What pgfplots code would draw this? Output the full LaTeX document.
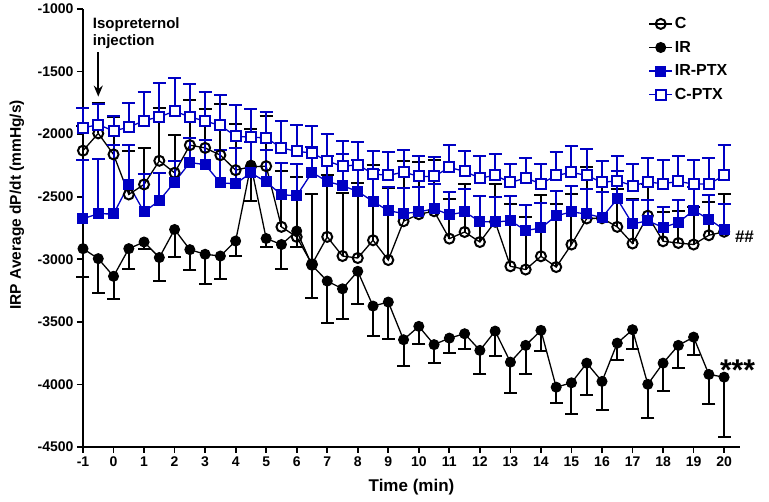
\documentclass[border=0pt]{standalone}
\usepackage{fontspec}
\setmainfont{Liberation Sans}
\usepackage{pgfplots}
\pgfplotsset{compat=1.18}
\usepackage{pgfplotstable}
\usetikzlibrary{arrows.meta, calc}
\definecolor{ptxblue}{RGB}{0,0,196}

% time, C, err, IR, err, IR-PTX, err, C-PTX, err
\pgfplotstableread{
t    C     Ce   IR    IRe  IRP   IRPe  CP    CPe
-1   -2132 200  -2915 227  -2676 470   -1950 160
-0.5 -1994 245  -2995 275  -2636 440   -1924 168
0    -2162 296  -3136 179  -2638 550   -1974 115
0.5  -2482 349  -2915 165  -2404 320   -1945 197
1    -2402 288  -2862 53   -2622 300   -1892 230
1.5  -2213 419  -2986 187  -2531 219   -1862 272
2    -2309 301  -2762 219  -2383 170   -1817 267
2.5  -2088 360  -2923 160  -2227 200   -1862 264
3    -2110 312  -2960 240  -2244 200   -1896 235
3.5  -2168 405  -2974 187  -2390 267   -1930 240
4    -2288 368  -2854 120  -2396 285   -2017 250
4.5  -2260 300  -2248 288  -2310 250   -2025 229
5    -2256 400  -2834 67   -2382 258   -2030 210
5.5  -2741 445  -2882 192  -2484 250   -2110 213
6    -2821 480  -2774 128  -2492 250   -2138 213
6.5  -3040 565  -3048 258  -2306 200   -2150 213
7    -2821 493  -3174 336  -2378 200   -2214 219
7.5  -2974 500  -3236 240  -2412 253   -2258 200
8    -2990 600  -3096 264  -2458 250   -2244 181
8.5  -2848 600  -3374 243  -2538 250   -2318 181
9    -3006 575  -3342 293  -2612 187   -2330 187
9.5  -2696 480  -3643 211  -2634 200   -2303 179
10   -2640 420  -3536 144  -2622 200   -2338 160
10.5 -2616 410  -3682 144  -2596 200   -2338 155
11   -2835 320  -3630 120  -2644 180   -2266 176
11.5 -2782 387  -3595 120  -2622 180   -2298 160
12   -2862 368  -3728 192  -2698 200   -2351 173
12.5 -2700 300  -3574 195  -2702 200   -2330 171
13   -3056 500  -3822 245  -2692 200   -2386 150
13.5 -3082 416  -3688 227  -2770 200   -2351 160
14   -2976 488  -3568 165  -2750 200   -2396 160
14.5 -3062 500  -4022 128  -2652 200   -2330 184
15   -2882 400  -3987 253  -2622 210   -2306 208
15.5 -2674 412  -3830 253  -2638 200   -2330 211
16   -2672 456  -3976 232  -2666 203   -2386 173
16.5 -2741 300  -3670 138  -2518 227   -2372 200
17   -2874 352  -3563 157  -2718 195   -2412 176
17.5 -2652 250  -3999 267  -2692 168   -2383 192
18   -2856 235  -3830 219  -2746 160   -2396 192
18.5 -2870 252  -3688 179  -2706 181   -2378 205
19   -2882 300  -3622 139  -2610 190   -2399 189
19.5 -2808 262  -3920 235  -2679 195   -2399 208
20   -2780 300  -3942 475  -2763 205   -2330 245
}\irpdata

\begin{document}
\begin{tikzpicture}
\begin{axis}[
    name=ax, at={(0,0)}, anchor=south west,
    scale only axis, width=657pt, height=438pt,
    xmin=-1, xmax=20.52, ymin=-4500, ymax=-1000,
    axis x line*=bottom, axis y line*=left,
    axis line style={line width=1.8pt},
    xtick={-1,0,...,20}, ytick={-4500,-4000,...,-1000},
    tick align=outside, major tick length=6pt,
    tick style={line width=1.8pt, black},
    scaled ticks=false,
    /pgf/number format/assume math mode=true,
    /pgf/number format/1000 sep={},
    tick label style={font=\bfseries\fontsize{14}{14}\selectfont},
    xlabel={Time (min)},
    xlabel style={font=\bfseries\fontsize{17}{17}\selectfont, yshift=-6pt},
    ylabel={IRP Average dP/dt (mmHg/s)},
    ylabel style={at={(axis description cs:-0.1005,0.553)}, anchor=center,
        font=\bfseries\fontsize{15.5}{15.5}\selectfont},
    clip=false,
    legend style={draw=none, fill=none, at={(0.856,0.99)}, anchor=north west,
        font=\bfseries\fontsize{16}{16}\selectfont, row sep=7pt},
    legend cell align=left,
    legend image code/.code={\draw[mark repeat=2,mark phase=2]
        plot coordinates {(0pt,0pt)(11.5pt,0pt)(23pt,0pt)};},
    error bars/error mark=-,
    error bars/error bar style={line width=2pt},
    error bars/error mark options={rotate=90, mark size=6.5pt, line width=2pt},
]
\addplot[black, line width=1.3pt, mark=o, mark size=5pt,
    mark options={fill=white, line width=2pt},
    error bars/.cd, y dir=plus, y explicit]
    table[x=t, y=C, y error=Ce] {\irpdata};
\addlegendentry{C}
\addplot[black, line width=1.3pt, mark=*, mark size=5pt,
    mark options={line width=1pt},
    error bars/.cd, y dir=minus, y explicit]
    table[x=t, y=IR, y error=IRe] {\irpdata};
\addlegendentry{IR}
\addplot[ptxblue, line width=1.3pt, mark=square*, mark size=5pt,
    mark options={line width=1pt},
    error bars/.cd, y dir=plus, y explicit]
    table[x=t, y=IRP, y error=IRPe] {\irpdata};
\addlegendentry{IR-PTX}
\addplot[ptxblue, line width=1.3pt, mark=square*, mark size=5pt,
    mark options={fill=white, line width=2pt},
    error bars/.cd, y dir=plus, y explicit]
    table[x=t, y=CP, y error=CPe] {\irpdata};
\addlegendentry{C-PTX}

\node[anchor=north west, align=left, inner sep=0pt,
    font=\bfseries\fontsize{15}{17}\selectfont] at (axis cs:-0.68,-1064) {Isopreternol\\injection};
\draw[-{Stealth[length=11pt,width=9pt]}, line width=2pt]
    (axis cs:-0.5,-1345) -- (axis cs:-0.5,-1700);
\node[anchor=base west, inner sep=0pt, font=\bfseries\fontsize{17}{17}\selectfont]
    at (axis cs:20.35,-2869) {\#\#};
\node[anchor=base west, inner sep=0pt, font=\bfseries\fontsize{30}{30}\selectfont]
    at (axis cs:19.86,-3966) {***};
\end{axis}
\pgfresetboundingbox
\useasboundingbox ($(ax.south west)+(-83pt,-55pt)$) rectangle ($(ax.south west)+(686pt,447pt)$);
\end{tikzpicture}
\end{document}
